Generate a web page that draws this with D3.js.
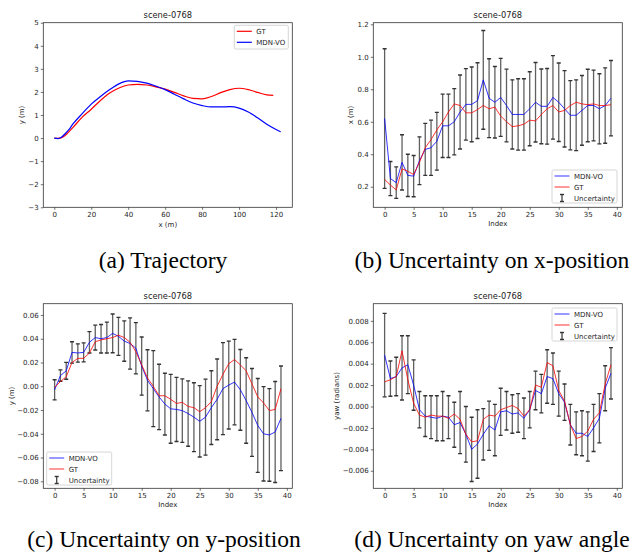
<!DOCTYPE html>
<html><head><meta charset="utf-8">
<script src="https://cdn.jsdelivr.net/npm/d3@7"></script>
<style>
body{margin:0;background:#fff}
svg{display:block}
text{font-family:"DejaVu Sans",sans-serif}
text.caption{font-family:"Liberation Serif","Times New Roman",serif}
</style>
</head><body>
<svg id="chart" width="636" height="557"></svg>
<script>
// ---------- Panel (a) trajectory ----------
const gtX  = [0,2,4,6,8,10,15,20,25,30,35,40,45,50,55,60,65,70,75,80,85,90,95,100,105,110,115,118.5];
const gtY  = [0,-0.01,0.02,0.12,0.28,0.45,0.9,1.25,1.63,1.95,2.17,2.3,2.33,2.3,2.22,2.12,1.98,1.83,1.72,1.7,1.8,1.97,2.1,2.16,2.1,1.98,1.87,1.85];
const mdnX = [0,2,4,6,8,10,15,20,25,30,35,40,45,50,55,60,65,70,75,80,85,90,95,100,105,110,115,120,122.5];
const mdnY = [0,-0.02,0.05,0.2,0.38,0.6,1.05,1.47,1.8,2.1,2.35,2.48,2.46,2.38,2.25,2.1,1.9,1.7,1.52,1.41,1.35,1.35,1.36,1.3,1.13,0.88,0.6,0.37,0.27];
const trajXTicks = [0,20,40,60,80,100,120];
const trajYTicks = [-3,-2,-1,0,1,2,3,4,5];

// ---------- shared index ----------
const idx = d3.range(40);
const indexTicks = [0,5,10,15,20,25,30,35,40];

// ---------- Panel (b) x-position ----------
const xPred = [0.62,0.25,0.225,0.35,0.27,0.265,0.36,0.43,0.44,0.48,0.575,0.575,0.60,0.66,0.707,0.707,0.73,0.858,0.745,0.72,0.75,0.70,0.645,0.645,0.645,0.68,0.72,0.695,0.695,0.75,0.72,0.68,0.64,0.64,0.67,0.70,0.70,0.68,0.70,0.745];
const xGT   = [0.245,0.21,0.18,0.31,0.295,0.275,0.35,0.44,0.49,0.55,0.60,0.66,0.71,0.70,0.655,0.655,0.675,0.70,0.68,0.69,0.635,0.60,0.57,0.575,0.585,0.61,0.605,0.645,0.68,0.70,0.66,0.67,0.70,0.72,0.71,0.705,0.71,0.70,0.70,0.705];
const xSig  = [0.43,0.105,0.097,0.17,0.13,0.127,0.147,0.16,0.17,0.178,0.195,0.195,0.204,0.228,0.22,0.23,0.233,0.304,0.243,0.22,0.24,0.224,0.213,0.22,0.22,0.228,0.245,0.23,0.233,0.257,0.242,0.235,0.213,0.218,0.215,0.223,0.218,0.216,0.232,0.232];
const xTicksY = [0.2,0.4,0.6,0.8,1.0,1.2];

// ---------- Panel (c) y-position ----------
const yPred = [-0.003,0.009,0.013,0.0285,0.028,0.0285,0.037,0.041,0.040,0.041,0.0445,0.042,0.038,0.036,0.032,0.017,0.005,-0.002,-0.009,-0.015,-0.019,-0.0195,-0.0205,-0.023,-0.026,-0.0295,-0.026,-0.018,-0.011,-0.002,0.001,0.0035,-0.003,-0.012,-0.022,-0.033,-0.040,-0.041,-0.0385,-0.027];
const yGT   = [-0.001,0.004,0.008,0.020,0.0235,0.0235,0.028,0.0375,0.039,0.040,0.041,0.043,0.041,0.037,0.029,0.018,0.007,0.0,-0.008,-0.008,-0.011,-0.0145,-0.0135,-0.017,-0.018,-0.0215,-0.018,-0.013,0.0,0.010,0.019,0.0225,0.018,0.013,0.002,-0.009,-0.014,-0.0205,-0.0195,-0.002];
const ySig  = [0.0085,0.0048,0.0071,0.009,0.0077,0.008,0.009,0.0105,0.012,0.013,0.0163,0.016,0.017,0.0216,0.0216,0.0245,0.0257,0.032,0.0275,0.026,0.029,0.027,0.0267,0.0275,0.029,0.030,0.032,0.031,0.034,0.0387,0.037,0.036,0.034,0.036,0.037,0.0395,0.0397,0.039,0.0425,0.044];
const yTicksY = [-0.08,-0.06,-0.04,-0.02,0.0,0.02,0.04,0.06];

// ---------- Panel (d) yaw ----------
const yawPred = [0.0048,0.0026,0.0028,0.0036,0.0039,0.002,-0.0003,-0.0009,-0.001,-0.0011,-0.0009,-0.001,-0.0017,-0.0015,-0.0026,-0.004,-0.0035,-0.0026,-0.0018,-0.0022,-0.0005,-0.0004,-0.0007,-0.0006,-0.0011,-0.0003,0.0015,0.0012,0.0028,0.0026,0.0012,0.0004,-0.0017,-0.0025,-0.0025,-0.0028,-0.002,-0.0011,0.0017,0.0031];
const yawGT   = [0.0023,0.0025,0.0028,0.0052,0.0025,0.0003,-0.0008,-0.001,-0.0008,-0.0009,-0.0009,-0.0011,-0.0007,-0.0012,-0.0026,-0.0033,-0.0032,-0.0012,-0.0008,-0.0009,-0.0003,-0.0001,0.0001,-0.0002,-0.0009,-0.0003,0.002,0.0018,0.0041,0.0038,0.0015,0.0005,-0.0017,-0.003,-0.0028,-0.0023,-0.0012,-0.0006,0.0021,0.0039];
const yawSig  = [0.0039,0.00165,0.0018,0.003,0.0027,0.00235,0.0017,0.0019,0.002,0.0021,0.0023,0.002,0.0021,0.0029,0.0026,0.003,0.0032,0.0024,0.0023,0.0024,0.0022,0.0018,0.0018,0.0018,0.0019,0.0017,0.0018,0.0018,0.0025,0.0024,0.0021,0.0017,0.0019,0.002,0.0021,0.0023,0.0022,0.0023,0.0021,0.0024];
const yawTicksY = [-0.006,-0.004,-0.002,0.0,0.002,0.004,0.006,0.008];

const titleText = "scene-0768";
const captions = ["(a) Trajectory","(b) Uncertainty on x-position","(c) Uncertainty on y-position","(d) Uncertainty on yaw angle"];

const svg = d3.select("#chart");
svg.append("rect").attr("width",636).attr("height",557).attr("fill","#fff");

const BLUE = "#0000ff", RED = "#ff0000", ERR = "#444";

function panel(cfg){
  const g = svg.append("g");
  const L = cfg.ox + 43.3, R = cfg.ox + 292.3, T = cfg.oy + 22.7, B = cfg.oy + 207.3;
  const x = d3.scaleLinear().domain(cfg.xd).range([L,R]);
  const y = d3.scaleLinear().domain(cfg.yd).range([B,T]);
  const clipId = "clip" + cfg.id;
  g.append("clipPath").attr("id",clipId).append("rect")
    .attr("x",L).attr("y",T).attr("width",R-L).attr("height",B-T);

  const xa = g.append("g").attr("transform",`translate(0,${B})`)
    .call(d3.axisBottom(x).tickValues(cfg.xt).tickFormat(cfg.xf).tickSize(2.5).tickPadding(2));
  const ya = g.append("g").attr("transform",`translate(${L},0)`)
    .call(d3.axisLeft(y).tickValues(cfg.yt).tickFormat(cfg.yf).tickSize(2.5).tickPadding(2.2));
  [xa,ya].forEach(a=>{
    a.select(".domain").remove();
    a.selectAll(".tick line").attr("stroke","#333").attr("stroke-width",0.7);
    a.selectAll(".tick text").attr("fill","#262626").attr("font-size",7)
      .attr("font-family","DejaVu Sans");
  });

  const plot = g.append("g").attr("clip-path",`url(#${clipId})`);

  if (cfg.err){
    const eg = plot.append("g");
    cfg.idx.forEach((i,k)=>{
      const p = cfg.pred[k], s = cfg.sig[k];
      const cx = x(i), y1 = y(p - s), y2 = y(p + s);
      eg.append("line").attr("x1",cx).attr("x2",cx).attr("y1",y1).attr("y2",y2)
        .attr("stroke",ERR).attr("stroke-width",1.3).attr("stroke-opacity",0.85);
      [y1,y2].forEach(yy=>eg.append("line").attr("x1",cx-2).attr("x2",cx+2)
        .attr("y1",yy).attr("y2",yy).attr("stroke","#333").attr("stroke-width",1.4));
    });
  }

  cfg.series.forEach(sr=>{
    const line = d3.line().x((d,k)=>x(sr.xs[k])).y(d=>y(d));
    if (sr.curve) line.curve(d3.curveMonotoneX);
    plot.append("path").datum(sr.ys).attr("d",line).attr("fill","none")
      .attr("stroke",sr.color).attr("stroke-width",sr.w).attr("stroke-opacity",sr.op)
      .attr("stroke-linejoin","round");
  });

  g.append("rect").attr("x",L).attr("y",T).attr("width",R-L).attr("height",B-T)
    .attr("fill","none").attr("stroke","#333").attr("stroke-width",0.8);

  g.append("text").attr("x",(L+R)/2).attr("y",cfg.oy+17.7).attr("text-anchor","middle")
    .attr("font-size",8.3).attr("fill","#1a1a1a").text(titleText);
  g.append("text").attr("x",(L+R)/2).attr("y",cfg.oy+cfg.xly).attr("text-anchor","middle")
    .attr("font-size",7).attr("fill","#262626").text(cfg.xl);
  g.append("text").attr("transform",`translate(${cfg.ylx},${(T+B)/2}) rotate(-90)`)
    .attr("text-anchor","middle").attr("font-size",7).attr("fill","#262626").text(cfg.yl);

  const lg = cfg.legend;
  g.append("rect").attr("x",lg.x).attr("y",lg.y).attr("width",lg.w).attr("height",lg.h)
    .attr("rx",1.5).attr("fill","#fff").attr("fill-opacity",0.8).attr("stroke","#cccccc").attr("stroke-width",0.8);
  lg.items.forEach((it,k)=>{
    const yy = lg.y + 6 + k*lg.dy;
    const hx0 = lg.x + 2.5, hx1 = lg.x + 17.5;
    if (it.type === "line"){
      g.append("line").attr("x1",hx0).attr("x2",hx1).attr("y1",yy).attr("y2",yy)
        .attr("stroke",it.color).attr("stroke-width",it.w).attr("stroke-opacity",it.op);
    } else {
      const cx = (hx0+hx1)/2;
      g.append("line").attr("x1",cx).attr("x2",cx).attr("y1",yy-3.5).attr("y2",yy+3.5)
        .attr("stroke",ERR).attr("stroke-width",1.3);
      [yy-3.5,yy+3.5].forEach(v=>g.append("line").attr("x1",cx-2).attr("x2",cx+2)
        .attr("y1",v).attr("y2",v).attr("stroke","#333").attr("stroke-width",1.4));
    }
    g.append("text").attr("x",lg.x+22).attr("y",yy+2.5).attr("font-size",7)
      .attr("fill","#262626").text(it.label);
  });
}

const fmtInt = d3.format("d");

panel({id:"a", ox:0, oy:0, xd:[-5.95,128.8], yd:[-3,5], xt:trajXTicks, yt:trajYTicks,
  xf:fmtInt, yf:fmtInt, xl:"x (m)", yl:"y (m)", xly:227, ylx:24,
  series:[
    {xs:gtX, ys:gtY, color:RED, w:1.2, op:1, curve:true},
    {xs:mdnX, ys:mdnY, color:BLUE, w:1.2, op:1, curve:true}
  ],
  legend:{x:234.3, y:25.3, w:54, h:23.7, dy:11,
    items:[{type:"line",color:RED,w:1.2,op:1,label:"GT"},{type:"line",color:BLUE,w:1.2,op:1,label:"MDN-VO"}]}
});

const errLegend = (x0,y0)=>({x:x0, y:y0, w:65, h:33, dy:11,
  items:[{type:"line",color:BLUE,w:1,op:0.8,label:"MDN-VO"},
         {type:"line",color:RED,w:1,op:0.8,label:"GT"},
         {type:"err",label:"Uncertainty"}]});

panel({id:"b", ox:330, oy:0, xd:[-1.95,40.95], yd:[0.0732,1.21], xt:indexTicks, yt:xTicksY,
  xf:fmtInt, yf:d3.format(".1f"), xl:"Index", yl:"x (m)", xly:225.5, ylx:352.5,
  err:true, idx:idx, pred:xPred, sig:xSig,
  series:[
    {xs:idx, ys:xPred, color:BLUE, w:1, op:0.8},
    {xs:idx, ys:xGT, color:RED, w:1, op:0.8}
  ],
  legend:errLegend(552,170)
});

panel({id:"c", ox:0, oy:281, xd:[-1.95,40.95], yd:[-0.0859,0.0695], xt:indexTicks, yt:yTicksY,
  xf:fmtInt, yf:d3.format(".2f"), xl:"Index", yl:"y (m)", xly:225.5, ylx:13.5,
  err:true, idx:idx, pred:yPred, sig:ySig,
  series:[
    {xs:idx, ys:yPred, color:BLUE, w:1, op:0.8},
    {xs:idx, ys:yGT, color:RED, w:1, op:0.8}
  ],
  legend:errLegend(46.7,452)
});

panel({id:"d", ox:330, oy:281, xd:[-1.95,40.95], yd:[-0.00764,0.0096], xt:indexTicks, yt:yawTicksY,
  xf:fmtInt, yf:d3.format(".3f"), xl:"Index", yl:"yaw (radians)", xly:225.5, ylx:339,
  err:true, idx:idx, pred:yawPred, sig:yawSig,
  series:[
    {xs:idx, ys:yawPred, color:BLUE, w:1, op:0.8},
    {xs:idx, ys:yawGT, color:RED, w:1, op:0.8}
  ],
  legend:errLegend(552,308)
});

// captions
const capPos = [[163,268],[492,268],[164,547],[492,547]];
captions.forEach((c,k)=>{
  svg.append("text").attr("class","caption").attr("x",capPos[k][0]).attr("y",capPos[k][1])
    .attr("text-anchor","middle").attr("font-size",23.5).attr("fill","#000").text(c);
});
</script>
</body></html>
